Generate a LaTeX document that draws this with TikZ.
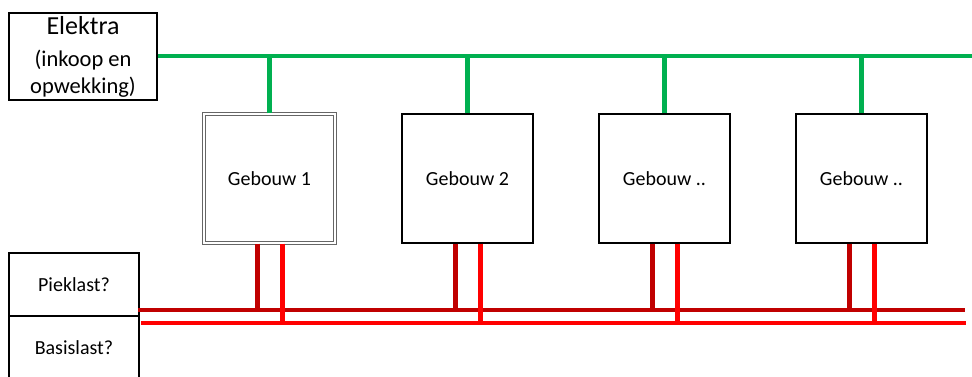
\documentclass[tikz,border=0pt]{standalone}
\usepackage{fontspec}
\setmainfont{Carlito}
\usetikzlibrary{positioning}
\usetikzlibrary{calc}
\definecolor{busgreen}{RGB}{0,176,80}
\definecolor{peakred}{RGB}{192,0,0}
\definecolor{basered}{RGB}{255,0,0}
\tikzstyle{building}=[rectangle,draw=black,line width=1.3pt,minimum width=131pt,minimum height=129pt,inner sep=0pt,font=\fontsize{20}{24}\selectfont]
\tikzstyle{firstbuilding}=[building,draw=black!60,double=white,double distance=1.5pt,line width=1.1pt]
\tikzstyle{loadbox}=[rectangle,draw=black,line width=1.3pt,minimum width=130pt,inner sep=0pt,font=\fontsize{20}{24}\selectfont]
\tikzstyle{greenline}=[draw,busgreen,line width=4.5pt]
\tikzstyle{peakline}=[draw,peakred,line width=4.5pt]
\tikzstyle{basisline}=[draw,basered,line width=4.5pt]

\begin{document}
\begin{tikzpicture}[x=1pt,y=-1pt]
    \useasboundingbox (0,0) rectangle (972,376);

    % Supply box and green bus
    \node[rectangle,draw=black,line width=1.3pt,minimum width=148pt,minimum height=87pt,inner sep=0pt,align=center,font=\fontsize{22.5}{27}\selectfont]
        (elektra) at (83,56.5) {{\fontsize{26}{31}\selectfont Elektra}\\[5pt](inkoop en\\opwekking)};
    \coordinate (busend) at (972,56);
    \path[greenline] (elektra.east |- busend) -- (busend);

    % Buildings
    \node[firstbuilding] (g1) at (269.5,178.5) {Gebouw 1};
    \foreach \pos/\name/\label in {{(467.5,178.5)/g2/Gebouw 2}, {(664.5,178.5)/g3/Gebouw ..}, {(861.5,178.5)/g4/Gebouw ..}}
        \node[building] (\name) at \pos {\label};

    % Load boxes
    \node[loadbox,minimum height=63pt] (piek) at (74,284.5) {Pieklast?};
    \node[loadbox,minimum height=64pt] (basis) at (74,348) {Basislast?};

    % Connect buildings to the green bus
    \foreach \name in {g1,g2,g3,g4}
        \path[greenline] (\name.north) -- (\name.north |- busend);

    % Red load lines
    \coordinate (peakstart) at (138,310);
    \coordinate (peakend) at (965,310);
    \coordinate (basestart) at (141,323);
    \coordinate (baseend) at (966,323);
    \path[peakline] (peakstart) -- (peakend);
    \path[basisline] (basestart) -- (baseend);

    \foreach \name in {g1,g2,g3,g4} {
        \coordinate (\name-pk) at ([xshift=-12pt]\name.south);
        \coordinate (\name-bs) at ([xshift=13pt]\name.south);
        \path[peakline] (\name-pk) -- (\name-pk |- peakstart);
        \path[basisline] (\name-bs) -- (\name-bs |- basestart);
    }

\end{tikzpicture}
\end{document}
